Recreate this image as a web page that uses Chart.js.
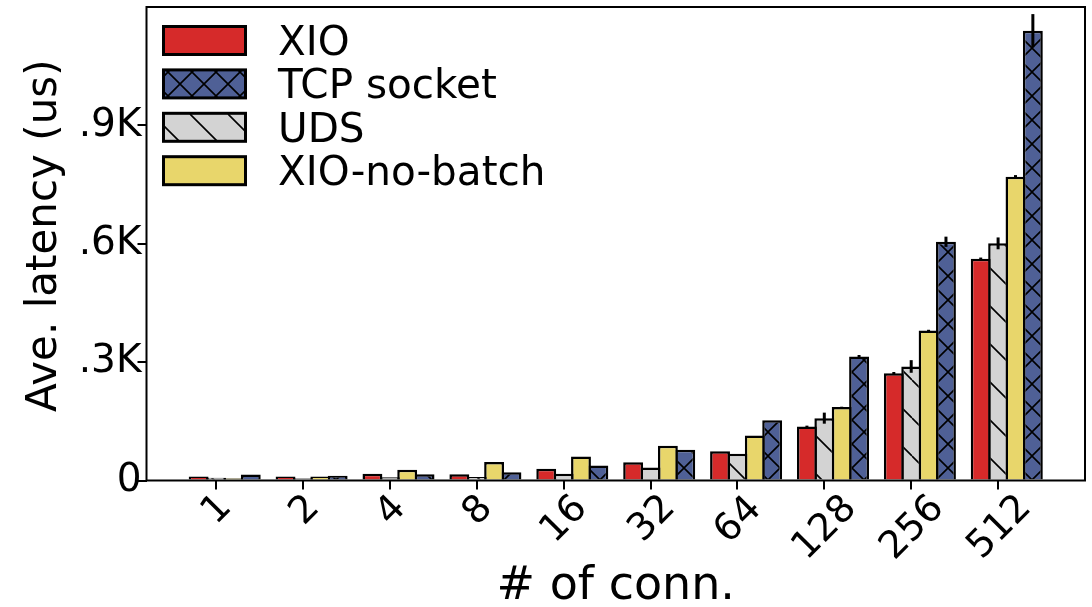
<!DOCTYPE html>
<html>
<head>
<meta charset="utf-8">
<script src="https://cdn.jsdelivr.net/npm/chart.js@4.4.1/dist/chart.umd.min.js"></script>
<style>
  html, body { margin: 0; padding: 0; background: #ffffff; }
  #wrap { width: 1092px; height: 607px; position: relative; }
  canvas { display: block; }
</style>
</head>
<body>
<div id="wrap"><canvas id="latency" width="1092" height="607"></canvas></div>
<script>
// Number of concurrent connections (x categories)
const categories = ['1', '2', '4', '8', '16', '32', '64', '128', '256', '512'];

// Average latency in microseconds, per transport
const xioLatency     = [10, 10, 17, 16, 30, 46, 74, 137, 272, 562];
const udsLatency     = [7, 6, 8, 9, 17, 33, 68, 158, 289, 601];
const noBatchLatency = [6, 10, 27, 47, 61, 88, 114, 186, 380, 770];
const tcpLatency     = [15, 12, 16, 21, 38, 78, 153, 314, 605, 1140];

// Standard deviation of each measurement
const xioErr     = [0, 0, 0, 0, 0, 0, 0, 2, 3, 3];
const udsErr     = [0, 0, 0, 0, 0, 0, 0, 14, 16, 15];
const noBatchErr = [0, 0, 0, 0, 0, 0, 0, 1, 2, 4];
const tcpErr     = [0, 0, 0, 0, 0, 0, 0, 4, 13, 42];

// Y axis ticks
const yTickValues = [0, 300, 600, 900];
const yTickLabels = ['0', '.3K', '.6K', '.9K'];

const FONT = '"DejaVu Sans", "Liberation Sans", sans-serif';

// Hatch fills, tiled from the canvas origin
function hatch(bg, kind, period, lw) {
  const c = document.createElement('canvas');
  c.width = period; c.height = period;
  const g = c.getContext('2d');
  g.fillStyle = bg;
  g.fillRect(0, 0, period, period);
  g.strokeStyle = '#000000';
  g.lineWidth = lw;
  g.beginPath();
  for (let k = -1; k <= 1; k++) {
    g.moveTo(k * period, 0);
    g.lineTo(k * period + period, period);
    if (kind === 'x') {
      g.moveTo(k * period, period);
      g.lineTo(k * period + period, 0);
    }
  }
  g.stroke();
  return g.createPattern(c, 'repeat');
}

const ctx0 = document.getElementById('latency').getContext('2d');
const RED = '#d62a2a';
const GREY_FILL = hatch('#d3d3d3', '\\', 38, 1.6);
const YELLOW = '#e8d66b';
const BLUE_FILL = hatch('#4f6096', 'x', 24, 1.6);

// Ticks sit under the second bar of each four-bar group
const groupShift = 0.1;
const toPoints = arr => arr.map((v, i) => ({ x: i + groupShift, y: v }));

const datasets = [
  { label: 'XIO',          data: toPoints(xioLatency),     backgroundColor: RED,       err: xioErr },
  { label: 'UDS',          data: toPoints(udsLatency),     backgroundColor: GREY_FILL, err: udsErr },
  { label: 'XIO-no-batch', data: toPoints(noBatchLatency), backgroundColor: YELLOW,    err: noBatchErr },
  { label: 'TCP socket',   data: toPoints(tcpLatency),     backgroundColor: BLUE_FILL, err: tcpErr }
].map(d => Object.assign(d, {
  borderColor: '#000000',
  borderWidth: 2.5,
  barPercentage: 1.144,
  categoryPercentage: 0.8
}));

// Legend order differs from bar order
const legendOrder = [0, 3, 1, 2];

const decorations = {
  id: 'decorations',
  afterDatasetsDraw(chart) {
    const { ctx, chartArea: a, scales: { y } } = chart;
    ctx.save();
    // error bars
    ctx.strokeStyle = '#000000';
    ctx.lineWidth = 3;
    chart.data.datasets.forEach((ds, di) => {
      const meta = chart.getDatasetMeta(di);
      ds.err.forEach((e, i) => {
        if (!e) return;
        const bar = meta.data[i];
        const v = ds.data[i].y;
        ctx.beginPath();
        ctx.moveTo(bar.x, y.getPixelForValue(v - e));
        ctx.lineTo(bar.x, y.getPixelForValue(v + e));
        ctx.stroke();
      });
    });
    // frame
    ctx.lineWidth = 2;
    ctx.strokeRect(a.left, a.top, a.right - a.left, a.bottom - a.top);
    ctx.restore();
  },
  afterDraw(chart) {
    const { ctx, chartArea: a, scales: { x } } = chart;
    ctx.save();
    ctx.fillStyle = '#000000';

    // rotated category labels, centred under each tick
    ctx.font = '38px ' + FONT;
    const labelTop = a.bottom + 11;
    categories.forEach((lab, i) => {
      const px = x.getPixelForValue(i);
      const m = ctx.measureText(lab);
      const l = -m.actualBoundingBoxLeft, r = m.actualBoundingBoxRight;
      const asc = m.actualBoundingBoxAscent, dsc = m.actualBoundingBoxDescent;
      const ext = ((r - l) + (asc + dsc)) / Math.SQRT2;
      ctx.save();
      ctx.translate(px - 1, labelTop + ext / 2);
      ctx.rotate(-Math.PI / 4);
      ctx.textAlign = 'left';
      ctx.textBaseline = 'alphabetic';
      ctx.fillText(lab, -(l + r) / 2, (asc - dsc) / 2);
      ctx.restore();
    });

    // axis titles
    ctx.textAlign = 'center';
    ctx.textBaseline = 'alphabetic';
    ctx.font = '46px ' + FONT;
    ctx.fillText('# of conn.', (a.left + a.right) / 2, 599);
    ctx.font = '42px ' + FONT;
    ctx.save();
    ctx.translate(56, (a.top + a.bottom) / 2 - 8);
    ctx.rotate(-Math.PI / 2);
    ctx.fillText('Ave. latency (us)', 0, 0);
    ctx.restore();

    // legend inside the plot, top left
    const boxX = 163.5, boxW = 82, boxH = 28, rowTop = 26.5, rowStep = 43.4;
    ctx.font = '40.5px ' + FONT;
    ctx.textAlign = 'left';
    legendOrder.forEach((di, k) => {
      const ds = chart.data.datasets[di];
      const top = rowTop + k * rowStep;
      ctx.fillStyle = ds.backgroundColor;
      ctx.fillRect(boxX, top, boxW, boxH);
      ctx.lineWidth = 3;
      ctx.strokeStyle = '#000000';
      ctx.strokeRect(boxX, top, boxW, boxH);
      ctx.fillStyle = '#000000';
      ctx.fillText(ds.label, 278, top + boxH + 0.5);
    });
    ctx.restore();
  }
};

new Chart(ctx0, {
  type: 'bar',
  data: { datasets },
  options: {
    responsive: false,
    animation: false,
    devicePixelRatio: 1,
    layout: { padding: { top: 7, right: 7, left: 0, bottom: 0 } },
    plugins: { legend: { display: false }, tooltip: { enabled: false } },
    scales: {
      x: {
        type: 'linear',
        offset: false,
        min: -0.8,
        max: 10,
        afterBuildTicks: s => { s.ticks = categories.map((_, i) => ({ value: i })); },
        afterFit: s => { s.height = 126.5; s.paddingLeft = 0; s.paddingRight = 0; },
        ticks: { display: false },
        grid: { offset: false, drawOnChartArea: false, drawTicks: true, tickLength: 9, color: '#000000', lineWidth: 2 },
        border: { display: false }
      },
      y: {
        type: 'linear',
        min: 0,
        max: 1200,
        afterBuildTicks: s => { s.ticks = yTickValues.map(v => ({ value: v })); },
        afterFit: s => { s.width = 146.5; s.paddingTop = 0; s.paddingBottom = 0; },
        ticks: {
          color: '#000000',
          padding: -4,
          font: { family: FONT, size: 39 },
          callback: (v, i) => yTickLabels[i]
        },
        grid: { drawOnChartArea: false, drawTicks: true, tickLength: 9, color: '#000000', lineWidth: 2 },
        border: { display: false }
      }
    }
  },
  plugins: [decorations]
});
</script>
</body>
</html>
